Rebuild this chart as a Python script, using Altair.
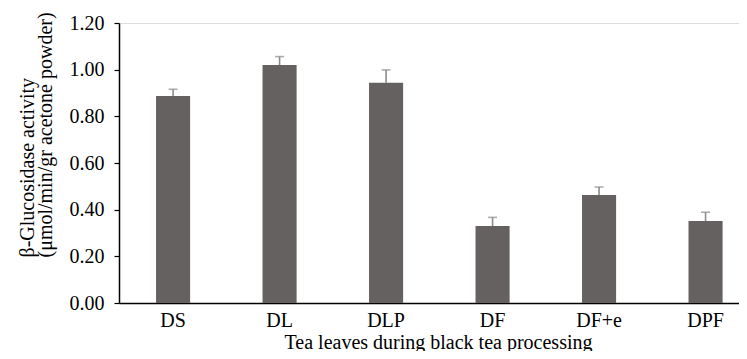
import altair as alt
import pandas as pd

categories = ["DS", "DL", "DLP", "DF", "DF+e", "DPF"]
activity = [0.887, 1.020, 0.944, 0.330, 0.463, 0.351]
error = [0.029, 0.036, 0.055, 0.037, 0.034, 0.038]

df = pd.DataFrame({"stage": categories, "activity": activity, "err": error})
df["top"] = df["activity"] + df["err"]

FONT = "Liberation Serif"

x = alt.X("stage:N", sort=categories,
          scale=alt.Scale(paddingInner=0.68, paddingOuter=0.251, align=0.693),
          axis=alt.Axis(title="Tea leaves during black tea processing",
                        labelAngle=0, ticks=False, labelPadding=7,
                        labelFontSize=20, titleFontSize=20,
                        titleFontWeight="normal", titleX=319, titleY=29,
                        titleAlign="center", titleBaseline="top",
                        domainColor="#000000", domainWidth=1.5,
                        labelColor="#000000", titleColor="#000000",
                        labelFont=FONT, titleFont=FONT))

y_axis = alt.Axis(title=["β-Glucosidase activity", "(μmol/min/gr acetone powder)"],
                  values=[0, 0.2, 0.4, 0.6, 0.8, 1.0, 1.2], format=".2f",
                  grid=False, tickSize=5, tickColor="#000000", tickWidth=1.2,
                  domainColor="#000000", domainWidth=1.5,
                  labelFontSize=20, labelPadding=10, labelColor="#000000",
                  labelFont=FONT, titleFont=FONT, titleFontSize=20,
                  titleFontWeight="normal", titleColor="#000000",
                  titleAngle=-90, titleAlign="left", titleBaseline="alphabetic",
                  titleLineHeight=18, titleX=-86, titleY=234)

base = alt.Chart(df)

bars = base.mark_bar(color="#656160").encode(
    x=x,
    y=alt.Y("activity:Q", scale=alt.Scale(domain=[0, 1.2], nice=False), axis=y_axis),
)

rules = base.mark_rule(color="#8c8c8c", strokeWidth=1.6).encode(
    x=alt.X("stage:N", sort=categories),
    y="activity:Q",
    y2="top:Q",
)

caps = base.mark_tick(color="#8c8c8c", thickness=1.6, size=9).encode(
    x=alt.X("stage:N", sort=categories),
    y="top:Q",
)

chart = alt.layer(bars, rules, caps).properties(
    width=620, height=280,
    autosize=alt.AutoSizeParams(type="none"),
    padding={"left": 111, "top": 15, "right": 0, "bottom": 48},
).configure_view(stroke=None).configure(background="#ffffff")

chart.save("out.html", embed_options={"renderer": "svg", "actions": False})
